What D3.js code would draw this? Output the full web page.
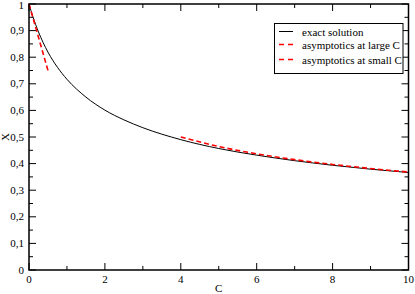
<!DOCTYPE html>
<html>
<head>
<meta charset="utf-8">
<script src="https://cdn.jsdelivr.net/npm/d3@7"></script>
<style>
  body { margin: 0; background: #fff; }
  text { font-family: "Liberation Serif", "Times New Roman", "DejaVu Serif", serif; }
</style>
</head>
<body>
<div id="chart"></div>
<script>
// Data
var exactC = [0, 0.1, 0.25, 0.5, 0.75, 1, 1.5, 2, 2.5, 3, 4, 5, 6, 7, 8, 9, 10];
var exactX = [1, 0.9535, 0.895, 0.819, 0.762, 0.717, 0.650, 0.601, 0.5645, 0.535, 0.490, 0.4567, 0.4318, 0.411, 0.3937, 0.379, 0.3665];

var largeC = [4, 5, 6, 7, 8, 9, 10];
var largeX = [0.500, 0.4642, 0.4368, 0.4149, 0.3969, 0.3816, 0.3684];

var smallC = [0, 0.5];
var smallX = [1, 0.75];

var xTicks = [0, 2, 4, 6, 8, 10];
var xMinor = [1, 3, 5, 7, 9];
var yTicks = [0, 0.1, 0.2, 0.3, 0.4, 0.5, 0.6, 0.7, 0.8, 0.9, 1];
var yTickLabels = ["0", "0,1", "0,2", "0,3", "0,4", "0,5", "0,6", "0,7", "0,8", "0,9", "1"];
var yMinor = [0.05, 0.15, 0.25, 0.35, 0.45, 0.55, 0.65, 0.75, 0.85, 0.95];

var legendLabels = ["exact solution", "asymptotics at large C", "asymptotics at small C"];

// Set up chart
var svgWidth = 415;
var svgHeight = 294;
var margin = { top: 4, right: 6.5, bottom: 24, left: 29 };
var width = svgWidth - margin.left - margin.right;
var height = svgHeight - margin.top - margin.bottom;

var svg = d3.select("#chart")
  .append("svg")
  .attr("width", svgWidth)
  .attr("height", svgHeight);

var chartGroup = svg.append("g")
  .attr("transform", `translate(${margin.left}, ${margin.top})`);

var x = d3.scaleLinear().domain([0, 10]).range([0, width]);
var y = d3.scaleLinear().domain([0, 1]).range([height, 0]);

// Ticks (inward, on all four sides)
function drawTicks(sel, vals, len) {
  vals.forEach(function(v) {
    sel.append("line").attr("x1", x(v)).attr("x2", x(v)).attr("y1", height).attr("y2", height - len);
    sel.append("line").attr("x1", x(v)).attr("x2", x(v)).attr("y1", 0).attr("y2", len);
  });
}
function drawYTicks(sel, vals, len) {
  vals.forEach(function(v) {
    sel.append("line").attr("y1", y(v)).attr("y2", y(v)).attr("x1", 0).attr("x2", len);
    sel.append("line").attr("y1", y(v)).attr("y2", y(v)).attr("x1", width).attr("x2", width - len);
  });
}
var tickGroup = chartGroup.append("g").attr("stroke", "#000").attr("stroke-width", 1);
drawTicks(tickGroup, xTicks, 7);
drawTicks(tickGroup, xMinor, 4);
drawYTicks(tickGroup, yTicks, 7);
drawYTicks(tickGroup, yMinor, 4);

// Tick labels
chartGroup.selectAll(".xlab")
  .data(xTicks)
  .enter()
  .append("text")
  .attr("x", d => x(d))
  .attr("y", height + 13)
  .attr("text-anchor", "middle")
  .attr("font-size", "11px")
  .text(d => d);

chartGroup.selectAll(".ylab")
  .data(yTicks)
  .enter()
  .append("text")
  .attr("x", -5)
  .attr("y", d => d === 1 ? y(d) + 4.5 : y(d) + 3.5)
  .attr("text-anchor", "end")
  .attr("font-size", "11px")
  .text((d, i) => yTickLabels[i]);

// Axis labels
svg.append("text")
  .attr("x", margin.left + x(5))
  .attr("y", 292)
  .attr("text-anchor", "middle")
  .attr("font-size", "11px")
  .text("C");

svg.append("text")
  .attr("transform", `translate(9, ${margin.top + y(0.5)}) rotate(-90)`)
  .attr("text-anchor", "middle")
  .attr("font-size", "11px")
  .text("X");

// Lines
var line = d3.line()
  .x(d => x(d[0]))
  .y(d => y(d[1]))
  .curve(d3.curveMonotoneX);

chartGroup.append("path")
  .datum(exactC.map((c, i) => [c, exactX[i]]))
  .attr("d", line)
  .attr("fill", "none")
  .attr("stroke", "#000")
  .attr("stroke-width", 1);

chartGroup.append("path")
  .datum(largeC.map((c, i) => [c, largeX[i]]))
  .attr("d", line)
  .attr("fill", "none")
  .attr("stroke", "#ff0000")
  .attr("stroke-width", 1.6)
  .attr("stroke-dasharray", "5,3");

chartGroup.append("path")
  .datum(smallC.map((c, i) => [c, smallX[i]]))
  .attr("d", line)
  .attr("fill", "none")
  .attr("stroke", "#ff0000")
  .attr("stroke-width", 1.6)
  .attr("stroke-dasharray", "5,3");

// Frame
chartGroup.append("rect")
  .attr("width", width)
  .attr("height", height)
  .attr("fill", "none")
  .attr("stroke", "#000")
  .attr("stroke-width", 1.5);

// Legend
var legend = svg.append("g");
legend.append("rect")
  .attr("x", 274.5)
  .attr("y", 23.5)
  .attr("width", 128.5)
  .attr("height", 50)
  .attr("fill", "#fff")
  .attr("stroke", "#000")
  .attr("stroke-width", 1);

var legendY = [32, 45, 60];
legendLabels.forEach(function(lbl, i) {
  legend.append("line")
    .attr("x1", 279).attr("x2", 293)
    .attr("y1", legendY[i] - 0.5).attr("y2", legendY[i] - 0.5)
    .attr("stroke", i === 0 ? "#000" : "#ff0000")
    .attr("stroke-width", i === 0 ? 1 : 1.6)
    .attr("stroke-dasharray", i === 0 ? null : "5,4");
  legend.append("text")
    .attr("x", 302)
    .attr("y", legendY[i] + 3.5)
    .attr("font-size", "11px")
    .text(lbl);
});
</script>
</body>
</html>
